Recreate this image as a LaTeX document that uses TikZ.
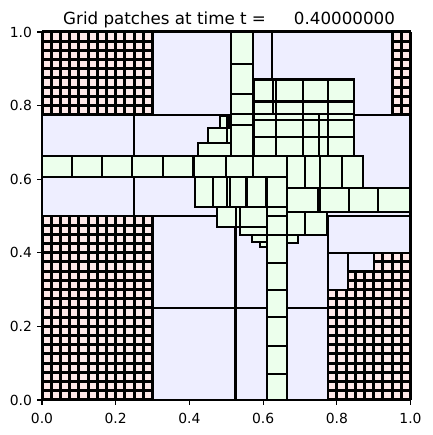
\documentclass[tikz,border=0pt]{standalone}
\usepackage{fontspec}
\setmainfont{DejaVu Sans}
\definecolor{cellpink}{RGB}{255,232,232}
\definecolor{patchblue}{RGB}{238,238,255}
\definecolor{patchgreen}{RGB}{236,255,236}
\begin{document}
\begin{tikzpicture}[x=1pt, y=1pt]
    % styles
    \tikzstyle{line_cell} = [black, line width=3pt]
    \tikzstyle{patch_two} = [fill=patchblue, draw=black, line width=2.1pt]
    \tikzstyle{patch_three} = [fill=patchgreen, draw=black, line width=2.1pt]
    \tikzstyle{tick_mark} = [black, line width=1.1pt]
    \tikzstyle{tick_label} = [font=\fontsize{13.9}{16}\selectfont, inner sep=0pt]

    \useasboundingbox (0,0) rectangle (432,435);

    % title
    \node[anchor=base west, inner sep=0pt, font=\fontsize{16.7}{20}\selectfont] (title) at (63,410)
        {Grid patches at time t =\hspace{28pt}0.40000000};

    \begin{scope}[shift={(42pt,35pt)}, x=368.5pt, y=368pt]
        % ================= level 1 =================
        \fill[cellpink] (0,0) rectangle (1,1);
        \foreach \i in {0,...,40} {
            \draw[line_cell] (\i/40,0) -- (\i/40,1);
            \draw[line_cell] (0,\i/40) -- (1,\i/40);
        }

        % ================= level 2 =================
        \foreach \xa/\xb/\ya/\yb in {0.3/0.625/0.775/1.0, 0.625/0.95/0.775/1.0,
                0/0.25/0.5/0.775, 0.25/0.625/0.5/0.775, 0.625/1.0/0.5/0.775,
                0.775/1.0/0.4/0.5, 0.3/0.525/0/0.25, 0.3/0.525/0.25/0.5,
                0.525/0.775/0/0.25, 0.525/0.775/0.25/0.5,
                0.775/0.83/0.3/0.4, 0.83/0.9/0.35/0.4} {
            \draw[patch_two] (\xa,\ya) rectangle (\xb,\yb);
        }

        % ================= level 3 =================
        % column at the top
        \foreach \ya/\yb in {0.913/1.0, 0.832/0.913, 0.777/0.832, 0.747/0.777, 0.663/0.747} {
            \draw[patch_three] (0.513,\ya) rectangle (0.573,\yb);
        }
        % block right of the column
        \foreach \ya/\yb in {0.811/0.871, 0.777/0.811} {
            \foreach \xa/\xb in {0.575/0.628, 0.628/0.635, 0.635/0.709, 0.709/0.777, 0.777/0.847} {
                \draw[patch_three] (\xa,\ya) rectangle (\xb,\yb);
            }
        }
        \foreach \ya/\yb in {0.761/0.777, 0.715/0.761, 0.663/0.715} {
            \foreach \xa/\xb in {0.575/0.635, 0.635/0.709, 0.709/0.752, 0.752/0.777, 0.777/0.847} {
                \draw[patch_three] (\xa,\ya) rectangle (\xb,\yb);
            }
        }
        % steps left of the column
        \foreach \xa/\xb/\ya/\yb in {0.483/0.501/0.738/0.772, 0.501/0.507/0.738/0.772,
                0.507/0.513/0.738/0.772, 0.451/0.501/0.698/0.738,
                0.501/0.513/0.698/0.738, 0.424/0.513/0.663/0.698} {
            \draw[patch_three] (\xa,\ya) rectangle (\xb,\yb);
        }
        % horizontal strip
        \foreach \xa/\xb in {0/0.081, 0.081/0.162, 0.162/0.245, 0.245/0.329,
                0.329/0.411, 0.411/0.499, 0.499/0.573, 0.573/0.664} {
            \draw[patch_three] (\xa,0.607) rectangle (\xb,0.663);
        }
        \foreach \xa/\xb in {0.664/0.714, 0.714/0.754, 0.754/0.815, 0.815/0.871} {
            \draw[patch_three] (\xa,0.575) rectangle (\xb,0.663);
        }
        \foreach \xa/\xb in {0.664/0.750, 0.750/0.755, 0.755/0.833, 0.833/0.913, 0.913/1.0} {
            \draw[patch_three] (\xa,0.512) rectangle (\xb,0.575);
        }
        % below the strip
        \foreach \xa/\xb in {0.415/0.463, 0.463/0.503, 0.503/0.510, 0.510/0.555, 0.555/0.608} {
            \draw[patch_three] (\xa,0.525) rectangle (\xb,0.607);
        }
        \foreach \xa/\xb/\ya/\yb in {0.474/0.526/0.471/0.525, 0.526/0.537/0.471/0.525,
                0.537/0.610/0.471/0.525, 0.537/0.610/0.448/0.471,
                0.569/0.610/0.430/0.448, 0.592/0.610/0.416/0.430,
                0.664/0.714/0.448/0.512, 0.714/0.773/0.448/0.512,
                0.664/0.695/0.426/0.448} {
            \draw[patch_three] (\xa,\ya) rectangle (\xb,\yb);
        }
        % long column
        \foreach \ya/\yb in {0/0.071, 0.071/0.147, 0.147/0.225, 0.225/0.299, 0.299/0.372,
                0.372/0.448, 0.448/0.5, 0.5/0.525, 0.525/0.607} {
            \draw[patch_three] (0.610,\ya) rectangle (0.664,\yb);
        }

        % axes
        \draw[tick_mark] (0,0) rectangle (1,1);
        \foreach \v [count=\k] in {0.0,0.2,0.4,0.6,0.8,1.0} {
            \draw[tick_mark] (\v,0) -- ++(0,-4.9pt);
            \draw[tick_mark] (0,\v) -- ++(-4.9pt,0);
            \node[tick_label, anchor=base, yshift=-23.3pt] (xl\k) at (\v,0) {\v};
            \node[tick_label, anchor=east, xshift=-9.8pt] (yl\k) at (0,\v) {\v};
        }
    \end{scope}
\end{tikzpicture}
\end{document}
